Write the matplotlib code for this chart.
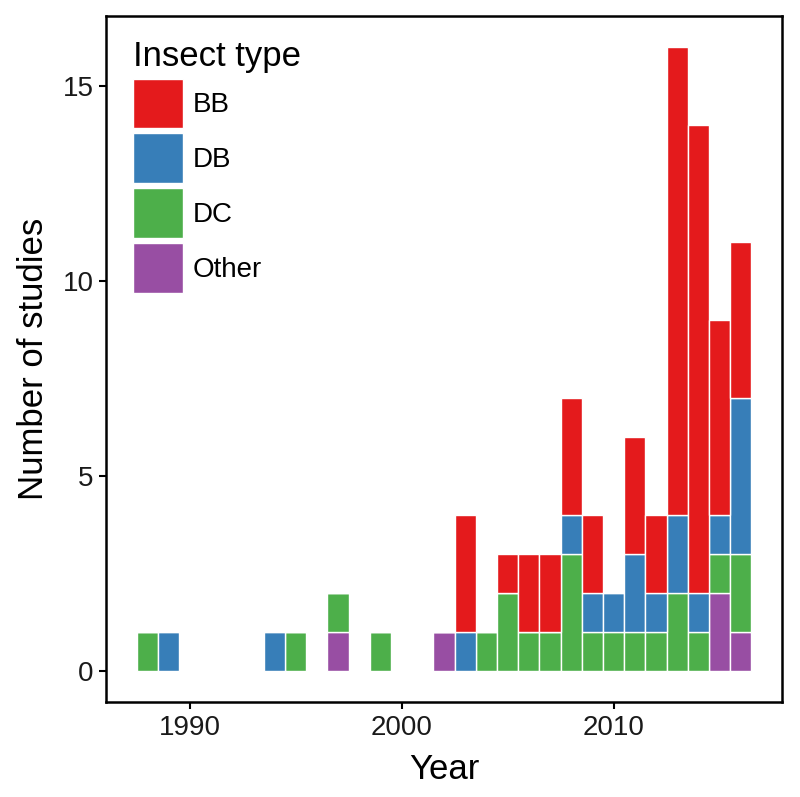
import numpy as np
import matplotlib
matplotlib.use('Agg')
import matplotlib.pyplot as plt
from matplotlib.patches import Patch

plt.rcParams['font.family'] = ['Liberation Sans', 'DejaVu Sans']

# studies per year, split by insect type
years = [1988, 1989, 1994, 1995, 1997, 1999, 2002, 2003, 2004, 2005, 2006,
         2007, 2008, 2009, 2010, 2011, 2012, 2013, 2014, 2015, 2016]
other = [0, 0, 0, 0, 1, 0, 1, 0, 0, 0, 0, 0, 0, 0, 0, 0, 0, 0, 0, 2, 1]
dc = [1, 0, 0, 1, 1, 1, 0, 0, 1, 2, 1, 1, 3, 1, 1, 1, 1, 2, 1, 1, 2]
db = [0, 1, 1, 0, 0, 0, 0, 1, 0, 0, 0, 0, 1, 1, 1, 2, 1, 2, 1, 1, 4]
bb = [0, 0, 0, 0, 0, 0, 0, 3, 0, 1, 2, 2, 3, 2, 0, 3, 2, 12, 12, 5, 4]

types = ['BB', 'DB', 'DC', 'Other']
colors = {'BB': '#E41A1C', 'DB': '#377EB8', 'DC': '#4DAF4A', 'Other': '#984EA3'}

fig = plt.figure(figsize=(8, 7.97), dpi=100)
ax = fig.add_axes([0.1325, 0.119, 0.845, 0.861])

# stack from the bottom: Other, DC, DB, BB
bottom = np.zeros(len(years))
for name, vals in [('Other', other), ('DC', dc), ('DB', db), ('BB', bb)]:
    vals = np.array(vals)
    ax.bar(years, vals, width=1.0, bottom=bottom, color=colors[name],
           edgecolor='white', linewidth=1.0)
    bottom += vals

ax.set_xlim(1986.05, 2017.95)
ax.set_ylim(-0.8, 16.8)
ax.set_xticks([1990, 2000, 2010])
ax.set_yticks([0, 5, 10, 15])
ax.tick_params(axis='both', labelsize=20, length=5, width=1.5, color='black',
               labelcolor='#1a1a1a', pad=4)
for sp in ax.spines.values():
    sp.set_linewidth(1.8)
    sp.set_color('black')

ax.set_xlabel('Year', fontsize=25, labelpad=9)
ax.set_ylabel('Number of studies', fontsize=25, labelpad=9)

handles = [Patch(facecolor=colors[t], edgecolor='white', linewidth=1.0) for t in types]
leg = ax.legend(handles, types, loc='upper left', bbox_to_anchor=(0.04, 0.965),
                frameon=False, fontsize=20, title='Insect type', title_fontsize=25,
                handlelength=1.8, handleheight=2.39, labelspacing=0.18,
                handletextpad=0.35, borderaxespad=0.0, borderpad=0.0)
leg._legend_box.align = 'left'
leg._legend_box.sep = 4

plt.savefig('out.png', dpi=100)
